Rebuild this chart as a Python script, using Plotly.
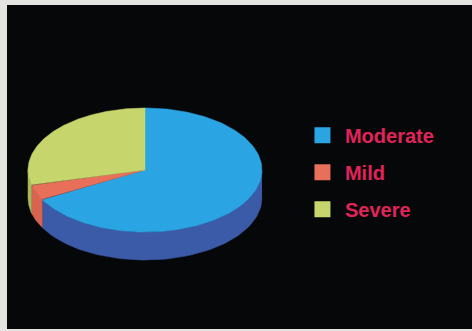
import numpy as np
import plotly.graph_objects as go

categories = ["Moderate", "Mild", "Severe"]
values = [67, 4, 29]
top_colors = ["#2aa4e2", "#e8705a", "#c6d66c"]
side_colors = ["#3b5aa8", "#d8634e", "#a9b95a"]
text_color = "#e0245a"

# pie geometry (pixel coords)
cx, cy, rx, ry, depth = 145, 170, 117, 62, 28

def pt(theta_deg):
    t = np.radians(theta_deg)
    return cx + rx * np.sin(t), cy - ry * np.cos(t)

fig = go.Figure()
total = sum(values)
bounds = []
acc = 0
for v in values:
    a1 = acc / total * 360
    acc += v
    a2 = acc / total * 360
    bounds.append((a1, a2))

# side walls (visible lower half: 90..270 deg clockwise from 12 o'clock)
for (a1, a2), col in zip(bounds, side_colors):
    lo, hi = max(a1, 90), min(a2, 270)
    if hi <= lo:
        continue
    t = np.linspace(lo, hi, 80)
    x, y = pt(t)
    xs = np.concatenate([x, x[::-1]])
    ys = np.concatenate([y, (y + depth)[::-1]])
    fig.add_trace(go.Scatter(x=xs, y=ys, fill="toself", mode="lines",
                             line=dict(color=col, width=0.5), fillcolor=col,
                             showlegend=False, hoverinfo="skip"))

# top faces
for (a1, a2), col, name in zip(bounds, top_colors, categories):
    t = np.linspace(a1, a2, 200)
    x, y = pt(t)
    xs = np.concatenate([[cx], x, [cx]])
    ys = np.concatenate([[cy], y, [cy]])
    fig.add_trace(go.Scatter(x=xs, y=ys, fill="toself", mode="lines",
                             line=dict(color=col, width=0.5), fillcolor=col,
                             showlegend=False, hoverinfo="skip", name=name))

# legend entries
for col, name in zip(top_colors, categories):
    fig.add_trace(go.Scatter(x=[None], y=[None], mode="markers", name=name,
                             legendgroup=name,
                             marker=dict(symbol="square", size=18, color=col)))

fig.update_layout(
    width=472, height=331,
    margin=dict(l=7, r=0, t=5, b=2),
    paper_bgcolor="#e4e4e2",
    plot_bgcolor="#060709",
    xaxis=dict(range=[7, 472], visible=False, fixedrange=True),
    yaxis=dict(range=[329, 5], visible=False, fixedrange=True),
    legend=dict(x=0.63, y=0.658, xanchor="left", yanchor="top",
                bgcolor="rgba(0,0,0,0)", tracegroupgap=8, itemwidth=35,
                font=dict(family="Liberation Sans, Arial, sans-serif", size=20,
                          color=text_color, weight="bold")),
    showlegend=True,
)

fig.write_html("out.html")
